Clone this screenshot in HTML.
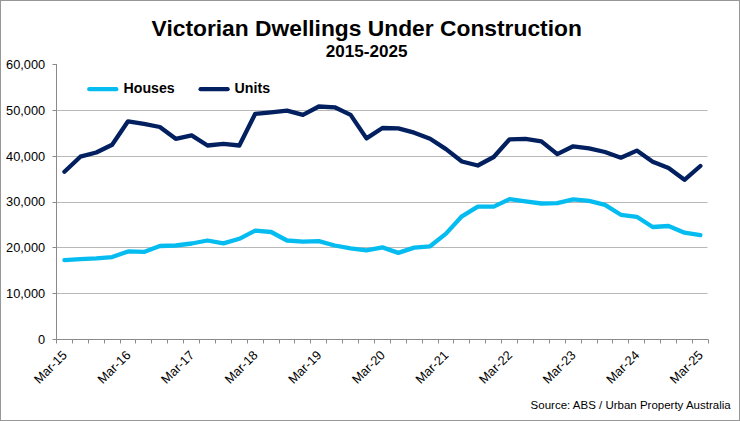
<!DOCTYPE html>
<html><head><meta charset="utf-8"><style>
html,body{margin:0;padding:0;background:#fff;}
svg{display:block;}
text{font-family:"Liberation Sans",sans-serif;fill:#000;}
.g{stroke:#b8b8b8;stroke-width:1;}
.a{stroke:#8a8a8a;stroke-width:1;}
.yl{font-size:12.8px;text-anchor:end;}
.xl{font-size:12.8px;text-anchor:end;}
.t{font-size:22.8px;font-weight:bold;}
.st{font-size:17.1px;font-weight:bold;}
.lg{font-size:14.2px;font-weight:bold;}
.src{font-size:11.5px;}
.ln{fill:none;stroke-width:4.3;stroke-linejoin:round;stroke-linecap:round;}
</style></head><body>
<svg width="740" height="421" viewBox="0 0 740 421">
<rect x="0" y="0" width="740" height="421" fill="#fff"/>
<rect x="0.5" y="0.5" width="739" height="420" fill="none" stroke="#979797" stroke-width="1"/>
<line x1="57.0" y1="293.5" x2="707.5" y2="293.5" class="g"/>
<line x1="57.0" y1="247.5" x2="707.5" y2="247.5" class="g"/>
<line x1="57.0" y1="202.5" x2="707.5" y2="202.5" class="g"/>
<line x1="57.0" y1="156.5" x2="707.5" y2="156.5" class="g"/>
<line x1="57.0" y1="110.5" x2="707.5" y2="110.5" class="g"/>

<line x1="56.5" y1="64" x2="56.5" y2="340.0" class="a"/>
<line x1="56.0" y1="339.5" x2="708.3" y2="339.5" class="a"/>
<line x1="52.5" y1="339.5" x2="56.5" y2="339.5" class="a"/>
<line x1="52.5" y1="293.5" x2="56.5" y2="293.5" class="a"/>
<line x1="52.5" y1="247.5" x2="56.5" y2="247.5" class="a"/>
<line x1="52.5" y1="202.5" x2="56.5" y2="202.5" class="a"/>
<line x1="52.5" y1="156.5" x2="56.5" y2="156.5" class="a"/>
<line x1="52.5" y1="110.5" x2="56.5" y2="110.5" class="a"/>
<line x1="52.5" y1="64.5" x2="56.5" y2="64.5" class="a"/>
<line x1="56.5" y1="339.5" x2="56.5" y2="343.5" class="a"/>
<line x1="72.5" y1="339.5" x2="72.5" y2="343.5" class="a"/>
<line x1="88.5" y1="339.5" x2="88.5" y2="343.5" class="a"/>
<line x1="104.5" y1="339.5" x2="104.5" y2="343.5" class="a"/>
<line x1="120.5" y1="339.5" x2="120.5" y2="343.5" class="a"/>
<line x1="135.5" y1="339.5" x2="135.5" y2="343.5" class="a"/>
<line x1="151.5" y1="339.5" x2="151.5" y2="343.5" class="a"/>
<line x1="167.5" y1="339.5" x2="167.5" y2="343.5" class="a"/>
<line x1="183.5" y1="339.5" x2="183.5" y2="343.5" class="a"/>
<line x1="199.5" y1="339.5" x2="199.5" y2="343.5" class="a"/>
<line x1="215.5" y1="339.5" x2="215.5" y2="343.5" class="a"/>
<line x1="231.5" y1="339.5" x2="231.5" y2="343.5" class="a"/>
<line x1="247.5" y1="339.5" x2="247.5" y2="343.5" class="a"/>
<line x1="263.5" y1="339.5" x2="263.5" y2="343.5" class="a"/>
<line x1="279.5" y1="339.5" x2="279.5" y2="343.5" class="a"/>
<line x1="294.5" y1="339.5" x2="294.5" y2="343.5" class="a"/>
<line x1="310.5" y1="339.5" x2="310.5" y2="343.5" class="a"/>
<line x1="326.5" y1="339.5" x2="326.5" y2="343.5" class="a"/>
<line x1="342.5" y1="339.5" x2="342.5" y2="343.5" class="a"/>
<line x1="358.5" y1="339.5" x2="358.5" y2="343.5" class="a"/>
<line x1="374.5" y1="339.5" x2="374.5" y2="343.5" class="a"/>
<line x1="390.5" y1="339.5" x2="390.5" y2="343.5" class="a"/>
<line x1="406.5" y1="339.5" x2="406.5" y2="343.5" class="a"/>
<line x1="422.5" y1="339.5" x2="422.5" y2="343.5" class="a"/>
<line x1="438.5" y1="339.5" x2="438.5" y2="343.5" class="a"/>
<line x1="453.5" y1="339.5" x2="453.5" y2="343.5" class="a"/>
<line x1="469.5" y1="339.5" x2="469.5" y2="343.5" class="a"/>
<line x1="485.5" y1="339.5" x2="485.5" y2="343.5" class="a"/>
<line x1="501.5" y1="339.5" x2="501.5" y2="343.5" class="a"/>
<line x1="517.5" y1="339.5" x2="517.5" y2="343.5" class="a"/>
<line x1="533.5" y1="339.5" x2="533.5" y2="343.5" class="a"/>
<line x1="549.5" y1="339.5" x2="549.5" y2="343.5" class="a"/>
<line x1="565.5" y1="339.5" x2="565.5" y2="343.5" class="a"/>
<line x1="581.5" y1="339.5" x2="581.5" y2="343.5" class="a"/>
<line x1="597.5" y1="339.5" x2="597.5" y2="343.5" class="a"/>
<line x1="612.5" y1="339.5" x2="612.5" y2="343.5" class="a"/>
<line x1="628.5" y1="339.5" x2="628.5" y2="343.5" class="a"/>
<line x1="644.5" y1="339.5" x2="644.5" y2="343.5" class="a"/>
<line x1="660.5" y1="339.5" x2="660.5" y2="343.5" class="a"/>
<line x1="676.5" y1="339.5" x2="676.5" y2="343.5" class="a"/>
<line x1="692.5" y1="339.5" x2="692.5" y2="343.5" class="a"/>
<line x1="708.5" y1="339.5" x2="708.5" y2="343.5" class="a"/>

<text x="45.2" y="343.90" class="yl">0</text>
<text x="45.2" y="298.07" class="yl">10,000</text>
<text x="45.2" y="252.23" class="yl">20,000</text>
<text x="45.2" y="206.40" class="yl">30,000</text>
<text x="45.2" y="160.57" class="yl">40,000</text>
<text x="45.2" y="114.74" class="yl">50,000</text>
<text x="45.2" y="68.90" class="yl">60,000</text>
<text transform="translate(67.85,355.90) rotate(-45)" class="xl">Mar-15</text>
<text transform="translate(131.44,355.90) rotate(-45)" class="xl">Mar-16</text>
<text transform="translate(195.03,355.90) rotate(-45)" class="xl">Mar-17</text>
<text transform="translate(258.63,355.90) rotate(-45)" class="xl">Mar-18</text>
<text transform="translate(322.22,355.90) rotate(-45)" class="xl">Mar-19</text>
<text transform="translate(385.81,355.90) rotate(-45)" class="xl">Mar-20</text>
<text transform="translate(449.40,355.90) rotate(-45)" class="xl">Mar-21</text>
<text transform="translate(512.99,355.90) rotate(-45)" class="xl">Mar-22</text>
<text transform="translate(576.59,355.90) rotate(-45)" class="xl">Mar-23</text>
<text transform="translate(640.18,355.90) rotate(-45)" class="xl">Mar-24</text>
<text transform="translate(703.77,355.90) rotate(-45)" class="xl">Mar-25</text>

<polyline class="ln" stroke="#05bcf0" points="64.45,260.20 80.35,259.10 96.25,258.40 112.14,257.10 128.04,251.40 143.94,251.90 159.84,246.00 175.74,245.50 191.63,243.50 207.53,240.50 223.43,243.40 239.33,238.80 255.23,230.60 271.12,232.00 287.02,240.50 302.92,241.70 318.82,241.10 334.72,245.50 350.61,248.40 366.51,250.30 382.41,247.40 398.31,252.90 414.21,247.60 430.10,246.30 446.00,233.60 461.90,216.30 477.80,206.60 493.70,206.60 509.59,199.10 525.49,201.40 541.39,203.50 557.29,203.10 573.19,199.30 589.08,200.90 604.98,204.85 620.88,214.80 636.78,216.80 652.68,227.00 668.57,226.00 684.47,232.70 700.37,235.20"/>
<polyline class="ln" stroke="#02205f" points="64.45,171.80 80.35,156.70 96.25,152.50 112.14,144.70 128.04,121.30 143.94,123.80 159.84,127.00 175.74,138.80 191.63,135.40 207.53,145.50 223.43,143.80 239.33,145.50 255.23,113.80 271.12,112.30 287.02,110.60 302.92,114.80 318.82,106.50 334.72,107.30 350.61,114.85 366.51,138.40 382.41,128.00 398.31,128.40 414.21,132.70 430.10,138.80 446.00,149.10 461.90,161.50 477.80,165.50 493.70,157.00 509.59,139.30 525.49,138.85 541.39,141.30 557.29,154.10 573.19,146.30 589.08,148.40 604.98,152.00 620.88,157.70 636.78,150.60 652.68,161.70 668.57,168.10 684.47,179.80 700.37,166.00"/>
<text x="151.6" y="35.9" class="t">Victorian Dwellings Under Construction</text>
<text x="325.8" y="56.6" class="st">2015-2025</text>
<line x1="89.3" y1="89.2" x2="116.3" y2="89.2" class="ln" stroke="#05bcf0"/>
<text x="123.5" y="93.2" class="lg">Houses</text>
<line x1="200.6" y1="89.2" x2="227.6" y2="89.2" class="ln" stroke="#02205f"/>
<text x="234.6" y="93.2" class="lg">Units</text>
<text x="530.6" y="409.3" class="src">Source: ABS / Urban Property Australia</text>
</svg>
</body></html>
